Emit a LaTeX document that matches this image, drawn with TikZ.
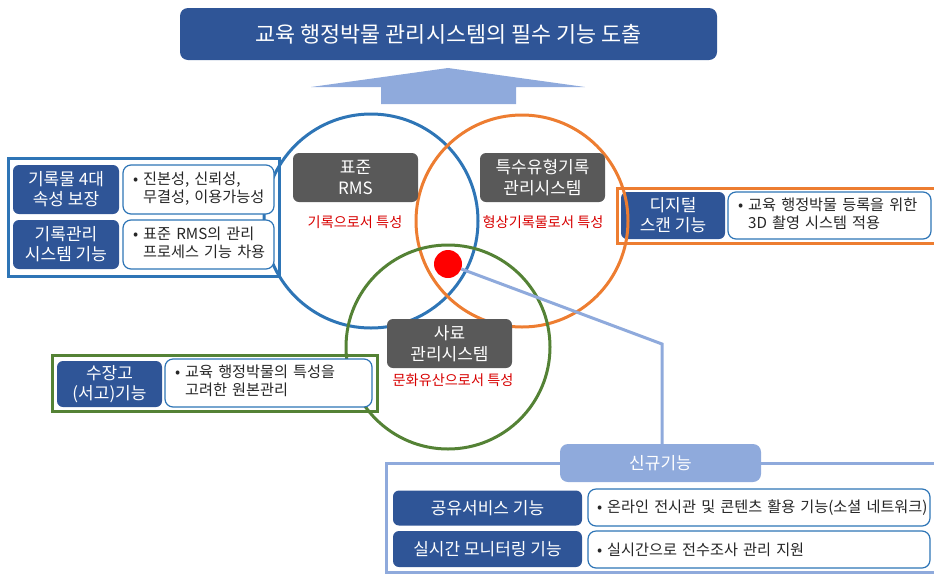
\documentclass[tikz,border=0pt]{standalone}
\usepackage{fontspec}
\setmainfont{Noto Sans CJK KR}
\definecolor{dkblue}{HTML}{2F5597}
\definecolor{ltblue}{HTML}{8FAADC}
\definecolor{cblue}{HTML}{2E75B6}
\definecolor{corange}{HTML}{ED7D31}
\definecolor{cgreen}{HTML}{548235}
\definecolor{sysgray}{HTML}{595959}
\definecolor{lblred}{RGB}{215,0,0}
\definecolor{txt}{HTML}{262626}
\newcommand{\itm}[2]{\begin{tabular}{@{}l@{\ }l@{}}•&#1\\&#2\end{tabular}}
\tikzset{
  dkbox/.style={fill=dkblue, rounded corners=6pt, text=white, align=center,
    font=\fontsize{17}{20}\selectfont, inner sep=0pt},
  wtbox/.style={draw=cblue, line width=1.2pt, fill=white, rounded corners=8pt,
    text=txt, align=left, font=\fontsize{15.2}{18}\selectfont, inner xsep=10pt, inner ysep=0pt},
  sysbox/.style={fill=sysgray, rounded corners=6pt, text=white, align=center,
    font=\fontsize{17}{21}\selectfont, inner sep=0pt, minimum width=125pt, minimum height=49pt},
  lbl/.style={text=lblred, font=\fontsize{14.2}{16}\selectfont, inner sep=0pt},
  ring/.style={draw=#1, circle, line width=3pt, inner sep=0pt},
  frame/.style={draw=#1, line width=3pt}
}
\begin{document}
\begin{tikzpicture}[x=1pt,y=-1pt]
\useasboundingbox (0,0) rectangle (934,574);
% title and arrow
\node[dkbox, font=\fontsize{21.8}{24}\selectfont, minimum width=537pt, minimum height=52pt, rounded corners=8pt] (title) at (448.5,34) {교육 행정박물 관리시스템의 필수 기능 도출};
\fill[ltblue] (381,104) -- (381,87) -- (311,87) -- (448,68) -- (585,87) -- (516,87) -- (516,104) -- cycle;
% frame on the right
\draw[frame=corange] (617,188) rectangle (940,243);
\node[dkbox, minimum width=104pt, minimum height=47pt] (scan) at (673,215.5) {디지털\\스캔 기능};
\node[wtbox, text width=183pt, minimum height=47pt] (scan-t) at (829.5,215.5) {\itm{교육 행정박물 등록을 위한}{3D 촬영 시스템 적용}};
% circles
\node[ring=cblue, minimum size=214pt] (c-rms) at (371,221) {};
\node[ring=corange, minimum size=212pt] (c-sp) at (522,221) {};
\node[ring=cgreen, minimum size=204pt] (c-hist) at (448,347) {};
% frame on the left, top
\draw[frame=cblue] (8,158) rectangle (279,276);
\node[dkbox, minimum width=106pt, minimum height=49pt] (rec4) at (66,189.5) {기록물 4대\\속성 보장};
\node[wtbox, text width=131pt, minimum height=49pt] (rec4-t) at (198.5,189.5) {\itm{진본성, 신뢰성,}{무결성, 이용가능성}};
\node[dkbox, minimum width=106pt, minimum height=49pt] (recsys) at (66,244.5) {기록관리\\시스템 기능};
\node[wtbox, text width=131pt, minimum height=49pt] (recsys-t) at (198.5,244.5) {\itm{표준 RMS의 관리}{프로세스 기능 차용}};
% frame on the left, bottom
\draw[frame=cgreen] (52,355) rectangle (377,411);
\node[dkbox, minimum width=105pt, minimum height=46pt] (store) at (109.5,384) {수장고\\(서고)기능};
\node[wtbox, text width=187pt, minimum height=48pt] (store-t) at (268.5,383) {\itm{교육 행정박물의 특성을}{고려한 원본관리}};
% systems
\node[sysbox] (rms) at (355.5,177.5) {표준\\RMS};
\node[lbl] (rms-l) at (355,222) {기록으로서 특성};
\node[sysbox] (sp) at (542.5,177.5) {특수유형기록\\관리시스템};
\node[lbl] (sp-l) at (543,222) {형상기록물로서 특성};
\node[sysbox] (hist) at (449.5,343.5) {사료\\관리시스템};
\node[lbl] (hist-l) at (453,380) {문화유산으로서 특성};
% new functions
\draw[frame=ltblue] (386,463) rectangle (940,572);
\node[fill=ltblue, rounded corners=8pt, text=white, font=\fontsize{17}{20}\selectfont, minimum width=201pt, minimum height=38pt, inner sep=0pt] (newfn) at (660.5,463) {신규기능};
\node[dkbox, minimum width=189pt, minimum height=35pt] (share) at (487.5,508) {공유서비스 기능};
\node[wtbox, inner xsep=9pt, text width=324pt, minimum height=37pt] (share-t) at (759,507.5) {\mbox{• 온라인 전시관 및 콘텐츠 활용 기능(소셜 네트워크)}};
\node[dkbox, minimum width=189pt, minimum height=36pt] (mon) at (487.5,549) {실시간 모니터링 기능};
\node[wtbox, inner xsep=9pt, text width=324pt, minimum height=37pt] (mon-t) at (759,549.5) {\mbox{• 실시간으로 전수조사 관리 지원}};
% dot and line
\node[circle, fill=red, minimum size=28pt, inner sep=0pt] (dot) at (448,264) {};
\coordinate (bend) at (662,344);
\draw[ltblue, line width=3pt] (dot) -- (bend) -- (bend |- newfn.north);
\end{tikzpicture}
\end{document}
